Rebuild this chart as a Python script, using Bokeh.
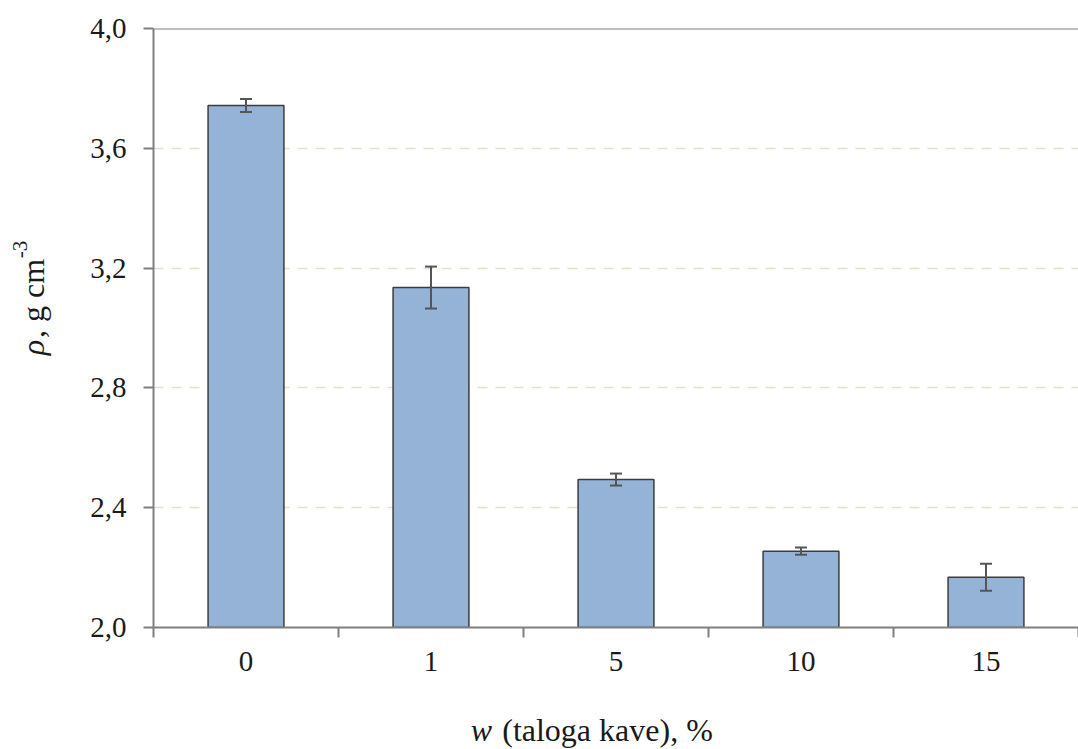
import math
from bokeh.plotting import figure
from bokeh.layouts import row, column
from bokeh.models import (ColumnDataSource, Range1d, FixedTicker, CustomJSTickFormatter,
                          Whisker, TeeHead, Span)
from bokeh.core.properties import value
from bokeh.embed import file_html
from bokeh.resources import INLINE

# ---- data ----
categories = ["0", "1", "5", "10", "15"]
density = [3.743, 3.135, 2.494, 2.255, 2.168]
errors = [0.022, 0.070, 0.020, 0.012, 0.045]
y_ticks = [2.0, 2.4, 2.8, 3.2, 3.6, 4.0]

FONT = "Liberation Serif"
TXT = "#1a1a1a"
AX = "#808080"

YLAB_W = 70
MAIN_W = 1078 - YLAB_W
MAIN_H = 697
XLAB_H = 749 - MAIN_H
FRAME_TOP = 28
FRAME_BOTTOM = 627

xs = list(range(len(categories)))
src = ColumnDataSource(dict(
    x=xs, top=density,
    upper=[d + e for d, e in zip(density, errors)],
    lower=[d - e for d, e in zip(density, errors)],
))

p = figure(width=MAIN_W, height=MAIN_H, output_backend="svg", toolbar_location=None,
           x_range=Range1d(-0.5, len(categories) - 0.5), y_range=Range1d(2.0, 4.0),
           min_border_left=153 - YLAB_W, min_border_right=0, min_border_top=FRAME_TOP,
           min_border_bottom=MAIN_H - FRAME_BOTTOM)
p.outline_line_color = None

p.vbar(x="x", top="top", bottom=2.0, width=0.41, source=src,
       fill_color="#95B3D7", line_color="#3c3c3c", line_width=1.5)

p.add_layout(Whisker(base="x", upper="upper", lower="lower", source=src, level="annotation",
                     line_color="#555555", line_width=2,
                     upper_head=TeeHead(size=12, line_color="#555555", line_width=2),
                     lower_head=TeeHead(size=12, line_color="#555555", line_width=2)))

p.add_layout(Span(location=4.0, dimension="width", line_color=AX, line_width=2))

# x axis
p.xaxis.ticker = FixedTicker(ticks=xs, minor_ticks=[i - 0.5 for i in range(len(categories) + 1)])
p.xaxis.major_label_overrides = {i: c for i, c in enumerate(categories)}
p.xaxis.major_tick_out = 0
p.xaxis.major_tick_in = 0
p.xaxis.minor_tick_out = 10
p.xaxis.minor_tick_in = 0
p.xaxis.minor_tick_line_color = AX
p.xaxis.minor_tick_line_width = 2
p.xaxis.axis_line_color = AX
p.xaxis.axis_line_width = 2
p.xaxis.major_label_text_font = FONT
p.xaxis.major_label_text_font_size = "29px"
p.xaxis.major_label_text_color = TXT
p.xaxis.major_label_standoff = 14

# y axis
p.yaxis.ticker = FixedTicker(ticks=y_ticks, minor_ticks=[])
p.yaxis.formatter = CustomJSTickFormatter(code="return tick.toFixed(1).replace('.', ',');")
p.yaxis.major_tick_out = 10
p.yaxis.major_tick_in = 0
p.yaxis.major_tick_line_color = AX
p.yaxis.major_tick_line_width = 2
p.yaxis.axis_line_color = AX
p.yaxis.axis_line_width = 2
p.yaxis.major_label_text_font = FONT
p.yaxis.major_label_text_font_size = "29px"
p.yaxis.major_label_text_color = TXT
p.yaxis.major_label_standoff = 17

p.xgrid.grid_line_color = None
p.ygrid.ticker = FixedTicker(ticks=y_ticks[1:-1])
p.ygrid.grid_line_color = "#E4E0CC"
p.ygrid.grid_line_width = 1.5
p.ygrid.grid_line_dash = "10 8"


def blank(w, h, yr):
    f = figure(width=w, height=h, output_backend="svg", toolbar_location=None,
               x_range=Range1d(0, w), y_range=Range1d(*yr),
               x_axis_type=None, y_axis_type=None, min_border=0, title=None)
    f.outline_line_color = None
    f.grid.visible = False
    return f


def txt(f, x, y, s, size="32px", style="normal", angle=0.0):
    f.text(x=[x], y=[y], text=[s], text_font=value(FONT), text_font_size=size,
           text_font_style=style, text_color=TXT, angle=angle,
           text_align="center", text_baseline="middle")


# y-axis title: ρ, g cm-3 (rotated); its frame is aligned with the main frame
yl = blank(YLAB_W, MAIN_H, (MAIN_H - FRAME_BOTTOM, MAIN_H - FRAME_TOP))
A = math.pi / 2
txt(yl, 32, MAIN_H - 347, "ρ", size="32px", style="italic", angle=A)
txt(yl, 32, MAIN_H - 298, ", g cm", size="32px", angle=A)
txt(yl, 19, MAIN_H - 249, "-3", size="21px", angle=A)

# x-axis title: w (taloga kave), %
xl = blank(1078, XLAB_H, (0, XLAB_H))
txt(xl, 481, 749 - 729, "w", size="32px", style="italic")
txt(xl, 607, 749 - 729, "(taloga kave), %", size="32px")

layout = column(row(yl, p, spacing=0), xl, spacing=0)
open("out.html", "w").write(file_html(layout, INLINE))
